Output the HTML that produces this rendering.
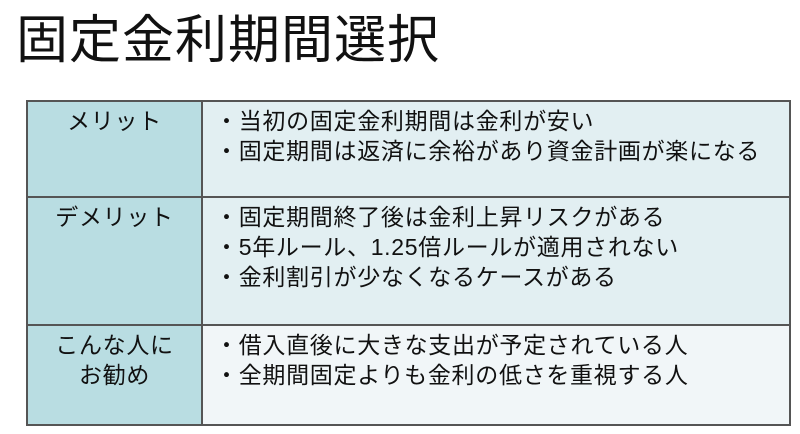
<!DOCTYPE html>
<html><head><meta charset="utf-8"><style>
body{margin:0;width:800px;height:434px;background:#fff;position:relative;overflow:hidden;font-family:"Liberation Sans","Noto Sans CJK JP",sans-serif;color:#111}
.t{position:absolute;left:16px;top:6px;font-size:52px;line-height:70px;letter-spacing:1px}
table{position:absolute;left:26px;top:100px;width:765px;border-collapse:collapse;font-size:23px;line-height:30px;letter-spacing:0.7px}
td{border:2px solid #555;vertical-align:top;padding:4px 0 0 0}
td.l{width:173px;background:#b9dde2;text-align:center}
td.r{background:#e2eff2;padding-left:12px}
tr.c td.r{background:#f1f6f8}
</style></head><body>
<div class="t">固定金利期間選択</div>
<table>
<tr style="height:96px"><td class="l">メリット</td><td class="r">・当初の固定金利期間は金利が安い<br>・固定期間は返済に余裕があり資金計画が楽になる</td></tr>
<tr style="height:128px"><td class="l">デメリット</td><td class="r">・固定期間終了後は金利上昇リスクがある<br>・5年ルール、1.25倍ルールが適用されない<br>・金利割引が少なくなるケースがある</td></tr>
<tr class="c" style="height:100px"><td class="l">こんな人に<br>お勧め</td><td class="r">・借入直後に大きな支出が予定されている人<br>・全期間固定よりも金利の低さを重視する人</td></tr>
</table>
</body></html>
